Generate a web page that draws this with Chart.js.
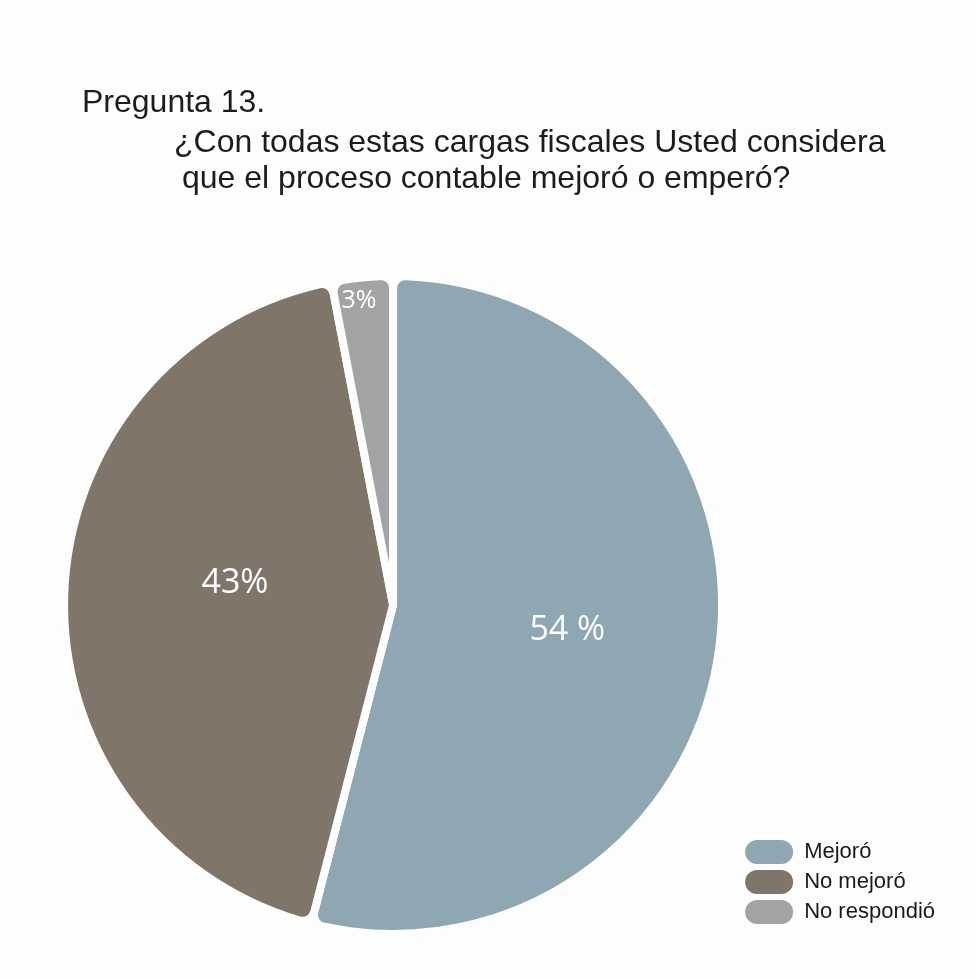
<!DOCTYPE html>
<html>
<head>
<meta charset="utf-8">
<script src="https://cdn.jsdelivr.net/npm/chart.js@4.4.1/dist/chart.umd.min.js"></script>
<style>
  html, body { margin: 0; padding: 0; background: #fdfdfd; }
</style>
</head>
<body>
<canvas id="myChart" width="976" height="979"></canvas>
<script>
const titleLines = [
    'Pregunta 13.',
    '¿Con todas estas cargas fiscales Usted considera',
    'que el proceso contable mejoró o emperó?'
];
const labels = ['Mejoró', 'No mejoró', 'No respondió'];
const values = [54, 43, 3];
const valueLabels = ['54 %', '43%', '3%'];
const colors = ['#8fa6b3', '#7f7669', '#a3a3a3'];

const ctx = document.getElementById('myChart');

// question text above the pie, second and third lines indented
const titleText = {
    id: 'titleText',
    afterDraw(chart) {
        const c = chart.ctx;
        c.save();
        c.fillStyle = '#1c1c1c';
        c.font = '32px "Liberation Sans", Arial, sans-serif';
        c.textBaseline = 'alphabetic';
        c.fillText(titleLines[0], 82, 112);
        c.fillText(titleLines[1], 174, 152);
        c.fillText(titleLines[2], 182, 188);
        c.restore();
    }
};

// white percentages inside the slices
const sliceLabels = {
    id: 'sliceLabels',
    afterDatasetsDraw(chart, args, opts) {
        const meta = chart.getDatasetMeta(0);
        const c = chart.ctx;
        c.save();
        c.fillStyle = '#ffffff';
        c.textAlign = 'center';
        c.textBaseline = 'middle';
        meta.data.forEach((arc, i) => {
            const p = arc.getProps(['x', 'y', 'startAngle', 'endAngle', 'outerRadius'], true);
            const a = (p.startAngle + p.endAngle) / 2 + opts.turn[i] * Math.PI / 180;
            const r = p.outerRadius * opts.dist[i];
            c.font = opts.sizes[i] + 'px "Open Sans", sans-serif';
            c.fillText(valueLabels[i], p.x + Math.cos(a) * r, p.y + Math.sin(a) * r);
        });
        c.restore();
    }
};

new Chart(ctx, {
    type: 'pie',
    data: {
        labels: labels,
        datasets: [
            {
                data: values,
                backgroundColor: colors,
                borderColor: '#fdfdfd',
                borderWidth: 8,
                borderRadius: 12,
                radius: 329
            }
        ]
    },
    options: {
        responsive: false,
        animation: false,
        layout: {
            padding: { left: 47, top: 280, right: 31, bottom: 49 }
        },
        plugins: {
            title: { display: false },
            tooltip: { enabled: false },
            legend: {
                position: 'right',
                align: 'end',
                labels: {
                    boxWidth: 48,
                    boxHeight: 24,
                    padding: 6,
                    useBorderRadius: true,
                    borderRadius: 12,
                    color: '#1a1a1a',
                    font: {
                        family: '"Liberation Sans Narrow", "Liberation Sans", sans-serif',
                        size: 22
                    },
                    generateLabels: (chart) => {
                        const items = Chart.overrides.pie.plugins.legend.labels.generateLabels(chart);
                        return items.map(it => Object.assign(it, { lineWidth: 0, strokeStyle: 'rgba(0,0,0,0)' }));
                    }
                }
            },
            sliceLabels: {
                dist: [0.535, 0.485, 0.93],
                turn: [1, 6, -1],
                sizes: [34, 34, 25]
            }
        }
    },
    plugins: [titleText, sliceLabels]
});
</script>
</body>
</html>
